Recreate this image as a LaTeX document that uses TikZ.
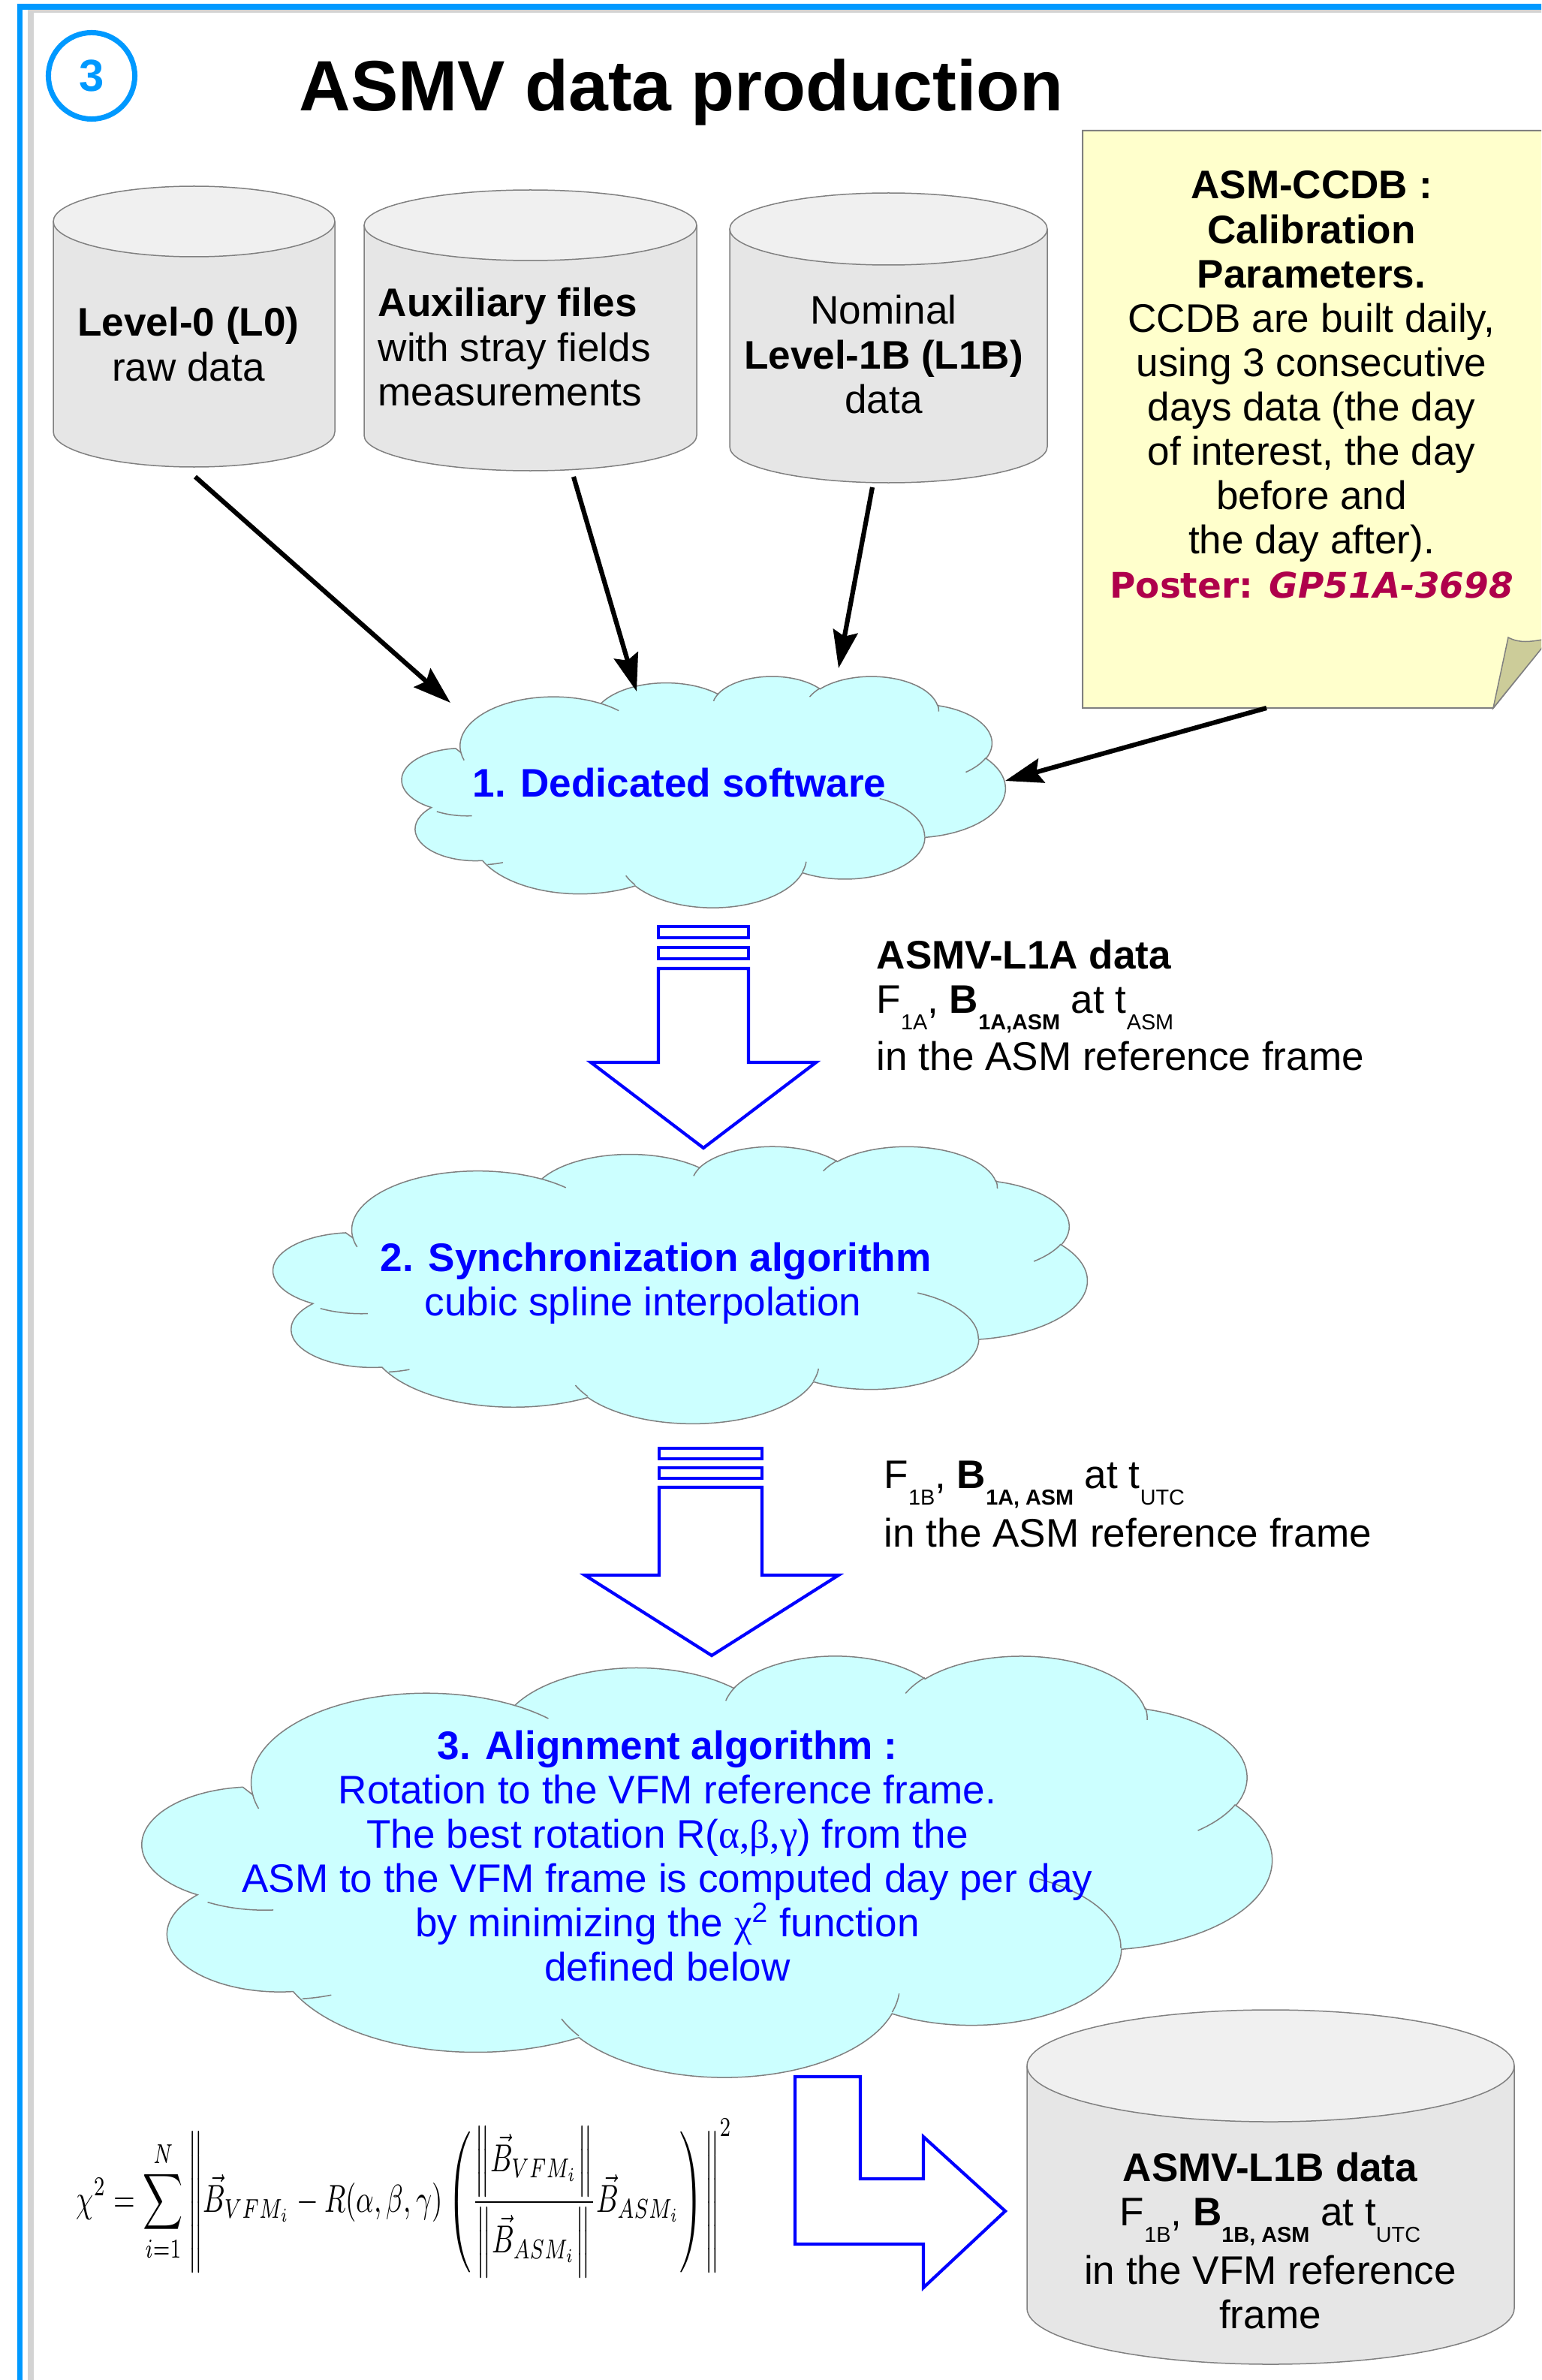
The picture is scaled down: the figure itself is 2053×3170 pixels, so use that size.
\documentclass[tikz,border=0pt]{standalone}
\usepackage{graphicx}
\usepackage[no-math]{fontspec}
\setmainfont{Liberation Sans}
\newfontfamily\greekserif{Liberation Serif}
\newfontfamily\posterfont{DejaVu Sans}
\usetikzlibrary{arrows.meta}
\definecolor{frameblue}{RGB}{0,153,255}
\definecolor{shadowgray}{RGB}{211,211,211}
\definecolor{txtblue}{RGB}{0,0,255}
\definecolor{cloudfill}{RGB}{204,255,255}
\definecolor{cyltop}{RGB}{240,240,240}
\definecolor{cylbody}{RGB}{230,230,230}
\definecolor{edgegray}{RGB}{128,128,128}
\definecolor{notefill}{RGB}{255,255,204}
\definecolor{foldfill}{RGB}{204,204,153}
\definecolor{postercol}{RGB}{175,0,75}
\newcommand\fs{\fontsize{15.1pt}{16.8pt}\selectfont}
\newcommand\lsub[1]{\raisebox{-6.3pt}{\fontsize{8.2pt}{9pt}\selectfont #1}}
\newcommand\clines[1]{\vtop{\lineskiplimit=-50pt\halign{\hfil##\hfil\cr#1\crcr}}}
\newcommand\llines[1]{\vtop{\lineskiplimit=-50pt\halign{##\hfil\cr#1\crcr}}}
% cloud (OOXML preset) helpers
\newcommand\cloudcalc[4]{%
  \pgfmathsetmacro\cldS{atan2((#1)*sin(#3),(#2)*cos(#3))}%
  \pgfmathsetmacro\cldE{atan2((#1)*sin((#3)+(#4)),(#2)*cos((#3)+(#4)))}%
  \pgfmathsetmacro\cldD{mod((\cldE)-(\cldS)+720,360)}%
  \global\let\gcldS\cldS\global\let\gcldD\cldD}
\newcommand\carc[4]{\pgfextra{\cloudcalc{#1}{#2}{#3}{#4}} arc[x radius=#1, y radius=#2, start angle=\gcldS, delta angle=\gcldD]}
\newcommand\drawcloud[4]{%
\begin{scope}[shift={(#1,#2)},xscale=#3/432,yscale=#4/432]
\draw[cloudline,fill=cloudfill] (39.00,143.70)
  \carc{67.53}{91.90}{-190.4875}{123.7805}
  \carc{53.33}{72.67}{-144.1024}{89.9452}
  \carc{43.65}{59.45}{-145.8079}{99.7230}
  \carc{48.57}{65.95}{-130.9861}{117.2417}
  \carc{53.33}{72.73}{-78.7089}{109.0269}
  \carc{67.75}{92.20}{-46.2673}{130.2690}
  \carc{57.85}{78.67}{0.6250}{114.0333}
  \carc{67.52}{92.15}{22.4516}{115.1726}
  \carc{77.20}{105.43}{66.2426}{82.2818}
  \carc{43.60}{59.18}{-274.9421}{146.7356}
  \carc{43.45}{59.45}{-246.8285}{152.5189}
  -- cycle;
\draw[cloudline]
  (46.93,261.77) \carc{43.45}{59.45}{86.7420}{26.4295}
  (69.28,348.99) \carc{43.60}{59.18}{73.6105}{11.4475}
  (164.78,390.90) \carc{67.52}{92.15}{137.6242}{14.0811}
  (288.27,347.51) \carc{67.52}{92.15}{6.4533}{15.9984}
  (341.29,229.54) \carc{57.85}{78.67}{-70.2924}{70.9174}
  (417.98,153.54) \carc{53.33}{72.73}{30.3180}{27.7515}
  (383.24,54.26) \carc{48.57}{65.95}{-13.7443}{14.8589}
  (290.78,39.52) \carc{48.57}{65.95}{-149.1815}{18.1954}
  (221.41,47.20) \carc{43.65}{59.45}{-163.4943}{17.6864}
  (140.00,51.92) \carc{67.53}{91.90}{-66.7070}{12.3194}
  (41.27,157.89) \carc{67.53}{91.90}{157.6544}{11.8582};
\end{scope}}
% cylinder: cx rx ytopcenter ybottomcenter ry
\newcommand\cyl[5]{%
  \fill[cylbody] ({#1-#2},#3) -- ({#1-#2},#4) arc[start angle=180,end angle=0,x radius=#2,y radius=#5] -- ({#1+#2},#3) -- cycle;
  \draw[cylline] ({#1-#2},#3) -- ({#1-#2},#4) arc[start angle=180,end angle=0,x radius=#2,y radius=#5] -- ({#1+#2},#3);
  \draw[cylline,fill=cyltop] (#1,#3) ellipse[x radius=#2,y radius=#5];}
\begin{document}
\begin{tikzpicture}[x=0.01cm,y=-0.01cm,
  cloudline/.style={draw=edgegray,line width=0.015cm},
  cylline/.style={draw=edgegray,line width=0.015cm},
  blk/.style={line width=0.062cm,-{Stealth[length=0.5cm,width=0.33cm,inset=0.07cm]}},
  blockarrow/.style={draw=txtblue,fill=white,line width=0.042cm,line join=miter},
  txt/.style={inner sep=0,font=\fs},
  bluetxt/.style={txt,text=txtblue}]
\useasboundingbox (0,0) rectangle (2053,3170);
\clip (0,0) rectangle (2053,3170);
\fill[white] (0,0) rectangle (2053,3170);
% frame
\fill[shadowgray] (37.3,12.7) rectangle (45,3200);
\fill[shadowgray] (37.3,12.7) rectangle (2080,17.3);
\fill[frameblue] (22.7,5) rectangle (30,3200);
\fill[frameblue] (22.7,5) rectangle (2080,12.7);
% header
\node[circle,draw=frameblue,line width=0.07cm,minimum size=1.15cm,inner sep=0,text=frameblue,font=\fontsize{17pt}{18pt}\selectfont\bfseries] (num) at (122,101) {3};
\node[anchor=base west,inner sep=0,font=\fontsize{27pt}{30pt}\selectfont\bfseries] (title) at (398,148) {ASMV data production};
% cylinders
\cyl{258.5}{187.5}{295}{575}{47}
\cyl{706.5}{221.5}{300}{580}{47}
\cyl{1183.5}{211.5}{305}{595}{48}
\node[txt,anchor=base] (cylA) at (251,448) {\clines{\bfseries Level-0 (L0)\cr raw data\cr}};
\node[txt,anchor=base west] (cylB) at (503,422) {\llines{\bfseries Auxiliary files\cr with stray fields\cr measurements\cr}};
\node[txt,anchor=base] (cylC) at (1177,432) {\clines{Nominal\cr\bfseries Level-1B (L1B)\cr data\cr}};
% note
\draw[draw=edgegray,line width=0.02cm,fill=notefill] (1442,174) -- (2080,174) -- (2080,830) -- (1989,943) -- (1442,943) -- cycle;
\draw[draw=edgegray,line width=0.015cm,fill=foldfill] (1989,943) -- (2009,849) .. controls (2024,857) and (2038,855) .. (2060,851) -- (2060,855.4) -- cycle;
\node[txt,anchor=base] (note) at (1747,265) {\clines{\bfseries ASM-CCDB :\cr\bfseries Calibration\cr\bfseries Parameters.\cr CCDB are built daily,\cr using 3 consecutive\cr days data (the day\cr of interest, the day\cr before and\cr the day after).\cr\color{postercol}\resizebox{5.37cm}{!}{\posterfont\bfseries Poster: {\itshape GP51A-3698}}\cr}};
% cloud 1
\drawcloud{542}{900}{797}{308}
\node[bluetxt,anchor=base] (cloud1) at (905,1061) {\bfseries 1. Dedicated software};
% black arrows
\coordinate (s1) at (260,635); \coordinate (e1) at (600,936);
\coordinate (s2) at (764,635); \coordinate (e2) at (848,921);
\coordinate (s3) at (1162,649); \coordinate (e3) at (1117,890);
\coordinate (s4) at (1687,943); \coordinate (e4) at (1339,1040);
\draw[blk] (s1) -- (e1);
\draw[blk] (s2) -- (e2);
\draw[blk] (s3) -- (e3);
\draw[blk] (s4) -- (e4);
% block arrow A
\draw[blockarrow] (877,1234) rectangle (997,1249);
\draw[blockarrow] (877,1262) rectangle (997,1277);
\draw[blockarrow] (877,1290) -- (997,1290) -- (997,1415) -- (1087,1415) -- (937,1529) -- (787,1415) -- (877,1415) -- cycle;
\node[txt,anchor=base west] (lblA) at (1167,1290) {\llines{\bfseries ASMV-L1A data\cr F\lsub{1A}, \textbf{B}\lsub{\bfseries 1A,ASM} at t\lsub{ASM}\cr\noalign{\vskip 5pt}in the ASM reference frame\cr}};
% cloud 2
\drawcloud{373}{1526}{1075}{369}
\node[bluetxt,anchor=base west] (cloud2) at (506,1693) {\llines{\bfseries 2. Synchronization algorithm\cr\hspace*{0.59cm}cubic spline interpolation\cr}};
% block arrow B
\draw[blockarrow] (878,1929) rectangle (1015,1943);
\draw[blockarrow] (878,1955) rectangle (1015,1969);
\draw[blockarrow] (878,1981) -- (1015,1981) -- (1015,2098) -- (1117,2098) -- (948,2205) -- (779,2098) -- (878,2098) -- cycle;
\node[txt,anchor=base west] (lblB) at (1177,1982) {\llines{F\lsub{1B}, \textbf{B}\lsub{\bfseries 1A, ASM} at t\lsub{UTC}\cr\noalign{\vskip 5.4pt}in the ASM reference frame\cr}};
% cloud 3
\drawcloud{202}{2204}{1492}{561}
\node[bluetxt,anchor=base] (cloud3) at (889,2343) {\clines{\bfseries 3. Alignment algorithm :\cr Rotation to the VFM reference frame.\cr The best rotation R({\greekserif α,β,γ}) from the\cr ASM to the VFM frame is computed day per day\cr by minimizing the {\greekserif χ}\textsuperscript{2} function\cr defined below\cr}};
% formula
\node[anchor=west,inner sep=0] (chi) at (101,2928) {\resizebox*{8.73cm}{2.12cm}{$\displaystyle \chi^2=\sum_{i=1}^{N}\left\|\vec{B}_{VFM_i}-R(\alpha,\beta,\gamma)\left(\frac{\left\|\vec{B}_{VFM_i}\right\|}{\left\|\vec{B}_{ASM_i}\right\|}\vec{B}_{ASM_i}\right)\right\|^2$}};
% bent arrow
\draw[blockarrow] (1059,2766) -- (1146,2766) -- (1146,2902) -- (1230,2902) -- (1230,2846) -- (1339,2945) -- (1230,3047) -- (1230,2989) -- (1059,2989) -- cycle;
% output cylinder
\cyl{1692.5}{324.5}{2751.5}{3074.5}{74.5}
\node[txt,anchor=base] (out) at (1692,2905) {\clines{\bfseries ASMV-L1B data\cr F\lsub{1B}, \textbf{B}\lsub{\bfseries 1B, ASM} at t\lsub{UTC}\cr\noalign{\vskip 5.4pt}in the VFM reference\cr frame\cr}};
\end{tikzpicture}
\end{document}
